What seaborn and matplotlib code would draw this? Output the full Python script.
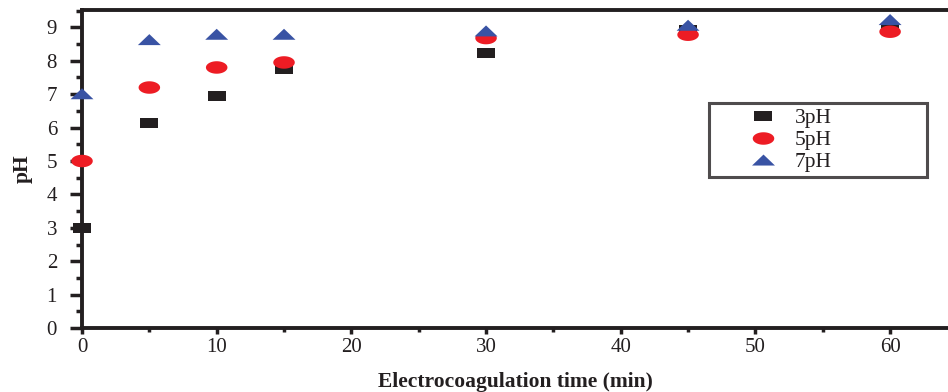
import numpy as np
import pandas as pd
import matplotlib
matplotlib.use("Agg")
import matplotlib.pyplot as plt
from matplotlib.path import Path
from matplotlib.lines import Line2D
from matplotlib.ticker import MultipleLocator
import seaborn as sns

# ---- data ----
time_min = [0, 5, 10, 15, 30, 45, 60]
ph_3 = [3.0, 6.13, 6.95, 7.77, 8.22, 8.92, 8.97]
ph_5 = [5.0, 7.20, 7.80, 7.95, 8.68, 8.78, 8.87]
ph_7 = [7.0, 8.62, 8.78, 8.78, 8.88, 9.05, 9.22]
series_labels = ["3pH", "5pH", "7pH"]
colors = ["#231f20", "#ed1c24", "#3953a4"]

sns.set_theme(style="white")
plt.rcParams['font.family'] = ['Liberation Serif', 'DejaVu Serif']

# wide, flat markers
sq = Path([(-0.5, -0.28), (0.5, -0.28), (0.5, 0.28), (-0.5, 0.28), (-0.5, -0.28)],
          [Path.MOVETO, Path.LINETO, Path.LINETO, Path.LINETO, Path.CLOSEPOLY])
t = np.linspace(0, 2 * np.pi, 60)
ell = Path(np.column_stack([0.5 * np.cos(t), 0.29 * np.sin(t)]))
tri = Path([(-0.5, -0.22), (0.5, -0.22), (0.0, 0.26), (-0.5, -0.22)],
           [Path.MOVETO, Path.LINETO, Path.LINETO, Path.CLOSEPOLY])
markers = [sq, ell, tri]
msizes = [13.0, 15.5, 16.5]  # points (full width)

fig = plt.figure(figsize=(9.48, 3.92), dpi=100)
ax = fig.add_axes([0.0865, 0.163, 0.9135, 0.8115])

df = pd.DataFrame({"time": time_min * 3,
                   "ph": ph_3 + ph_5 + ph_7,
                   "series": sum([[s] * len(time_min) for s in series_labels], [])})

handles = []
for lab, col, mk, ms in zip(series_labels, colors, markers, msizes):
    sub = df[df["series"] == lab]
    sns.scatterplot(data=sub, x="time", y="ph", ax=ax, color=col, marker=mk,
                    s=ms ** 2, linewidth=0, edgecolor="none", legend=False,
                    zorder=3, clip_on=False)
    handles.append(Line2D([], [], linestyle="none", marker=mk, markersize=ms,
                          markerfacecolor=col, markeredgewidth=0))

ax.set_xlim(0, 64.3)
ax.set_ylim(0, 9.52)
ax.xaxis.set_major_locator(MultipleLocator(10))
ax.xaxis.set_minor_locator(MultipleLocator(5))
ax.yaxis.set_major_locator(MultipleLocator(1))
ax.yaxis.set_minor_locator(MultipleLocator(0.5))

for side in ["left", "bottom", "top"]:
    ax.spines[side].set_visible(True)
    ax.spines[side].set_color("#231f20")
    ax.spines[side].set_linewidth(2.8)
    ax.spines[side].set_zorder(2)
ax.spines["right"].set_visible(False)

ax.tick_params(axis="y", which="major", direction="out", length=9, width=2.5,
               color="#231f20", pad=9, labelsize=15, labelcolor="#231f20", left=True)
ax.tick_params(axis="y", which="minor", direction="out", length=4, width=2.5,
               color="#231f20", left=True)
ax.tick_params(axis="x", which="major", direction="out", length=4, width=2.5,
               color="#231f20", pad=3, labelsize=15, labelcolor="#231f20", bottom=True)
ax.tick_params(axis="x", which="minor", direction="out", length=3, width=2.5,
               color="#231f20", bottom=True)

ax.set_xlabel("Electrocoagulation time (min)", fontsize=15.5, fontweight="bold",
              color="#231f20", labelpad=11)
ax.set_ylabel("pH", fontsize=15.5, fontweight="bold", color="#231f20", labelpad=10)
ax.grid(False)

leg = ax.legend(handles, series_labels, loc="upper left",
                bbox_to_anchor=(0.724, 0.478, 0.252, 0.2295), mode="expand",
                frameon=True, fancybox=False, fontsize=15.5, handlelength=4.5,
                handletextpad=-0.75, borderpad=0.25, labelspacing=0.08,
                borderaxespad=0)
leg.get_frame().set_edgecolor("#231f20")
leg.get_frame().set_linewidth(2.2)
for txt in leg.get_texts():
    txt.set_color("#231f20")

fig.savefig("out.png", dpi=100)
